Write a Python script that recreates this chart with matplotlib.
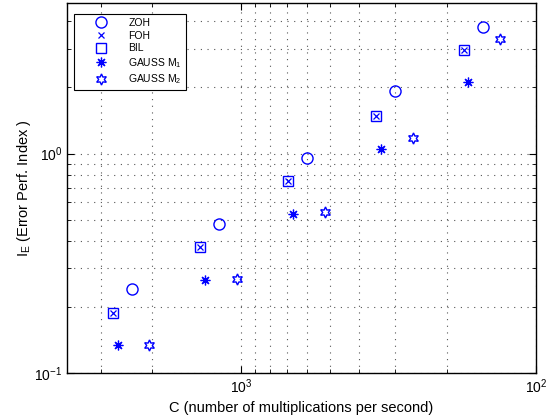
import matplotlib
matplotlib.use("Agg")
import matplotlib.pyplot as plt
from matplotlib.ticker import LogLocator, NullFormatter

plt.rcParams['font.family'] = ['Liberation Sans', 'DejaVu Sans']
plt.rcParams['mathtext.fontset'] = 'custom'
plt.rcParams['mathtext.rm'] = 'Liberation Sans'
plt.rcParams['mathtext.it'] = 'Liberation Sans'

# values
zoh_c = [2350, 1190, 598, 300, 151]
zoh_ie = [0.242, 0.479, 0.959, 1.92, 3.76]
foh_c = [2730, 1376, 694, 350, 176]
foh_ie = [0.188, 0.376, 0.753, 1.49, 2.95]
bil_c = [2730, 1376, 694, 350, 176]
bil_ie = [0.188, 0.376, 0.753, 1.49, 2.95]
g1_c = [2620, 1323, 667, 336, 170]
g1_ie = [0.134, 0.266, 0.532, 1.054, 2.11]
g2_c = [2063, 1031, 520, 262, 132]
g2_ie = [0.134, 0.269, 0.544, 1.18, 3.32]

blue = '#0000ff'
fig = plt.figure(figsize=(5.46, 4.19), dpi=100)
ax = fig.add_axes([0.1227, 0.1098, 0.859, 0.883])

ax.plot(zoh_c, zoh_ie, 'o', ms=8, mfc='none', mec=blue, mew=1.0, ls='none', label='ZOH')
ax.plot(foh_c, foh_ie, 'x', ms=5, mec=blue, mew=0.9, ls='none', label='FOH')
ax.plot(bil_c, bil_ie, 's', ms=6.5, mfc='none', mec=blue, mew=1.0, ls='none', label='BIL')
ax.plot(g1_c, g1_ie, marker=(8, 2, 0), ms=7, mec=blue, mew=0.9, ls='none', label='GAUSS M$_1$')
ax.plot(g2_c, g2_ie, marker=(6, 1, 0), ms=8, mfc='none', mec=blue, mew=1.0, ls='none', label='GAUSS M$_2$')

ax.set_xscale('log')
ax.set_yscale('log')
ax.set_xlim(3900, 100)
ax.set_ylim(0.1, 4.85)

ax.xaxis.set_minor_locator(LogLocator(base=10, subs=range(2, 10)))
ax.yaxis.set_minor_locator(LogLocator(base=10, subs=range(2, 10)))
ax.xaxis.set_minor_formatter(NullFormatter())
ax.yaxis.set_minor_formatter(NullFormatter())

ax.grid(True, which='both', ls=(0, (1, 5)), color='#555555', lw=0.8)
ax.tick_params(which='both', direction='in', top=True, right=True, labelsize=10)
ax.tick_params(which='major', length=5)
ax.tick_params(which='minor', length=3)
for s in ax.spines.values():
    s.set_linewidth(1.0)

ax.set_xlabel('C (number of multiplications per second)', fontsize=10.5, labelpad=3)
ax.set_ylabel('I$_\\mathrm{E}$ (Error Perf. Index )', fontsize=10.5, labelpad=1)

leg = ax.legend(loc='upper left', bbox_to_anchor=(0.004, 0.985), fontsize=7.5, frameon=True,
                fancybox=False, edgecolor='black', framealpha=1, borderpad=0.4,
                handletextpad=0.4, labelspacing=0.25, handlelength=4.4)
leg.get_frame().set_linewidth(0.8)

fig.savefig('out.png', dpi=100)
